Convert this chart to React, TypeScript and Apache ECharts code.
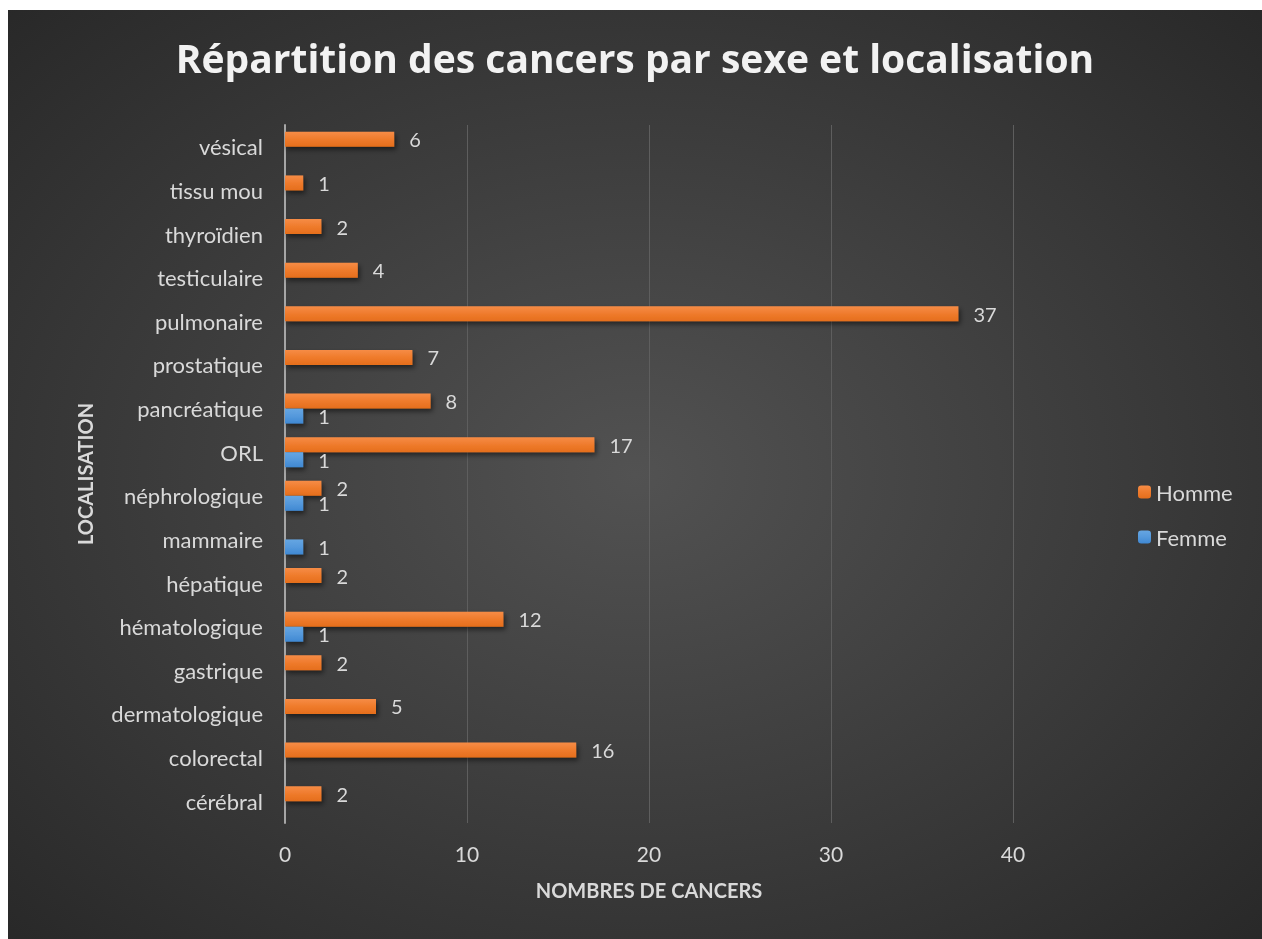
import React, { useEffect, useRef } from "react";
import * as echarts from "echarts";

const categories = [
  "cérébral",
  "colorectal",
  "dermatologique",
  "gastrique",
  "hématologique",
  "hépatique",
  "mammaire",
  "néphrologique",
  "ORL",
  "pancréatique",
  "prostatique",
  "pulmonaire",
  "testiculaire",
  "thyroïdien",
  "tissu mou",
  "vésical",
];
const homme = [2, 16, 5, 2, 12, 2, null, 2, 17, 8, 7, 37, 4, 2, 1, 6];
const femme = [null, null, null, null, 1, null, 1, 1, 1, 1, null, null, null, null, null, null];
const xTicks = { min: 0, max: 40, interval: 10 };

const FONT = "Lato, 'Noto Sans', sans-serif";

export default function App() {
  const ref = useRef<HTMLDivElement>(null);
  useEffect(() => {
    const chart = echarts.init(ref.current!, undefined, { renderer: "svg" });
    const orange = new echarts.graphic.LinearGradient(0, 0, 0, 1, [
      { offset: 0, color: "#f68c46" },
      { offset: 0.5, color: "#ef7b2c" },
      { offset: 1, color: "#e56e1c" },
    ]);
    const blue = new echarts.graphic.LinearGradient(0, 0, 0, 1, [
      { offset: 0, color: "#66a6e2" },
      { offset: 0.5, color: "#5599dc" },
      { offset: 1, color: "#3f88d2" },
    ]);
    const labelStyle = {
      show: true,
      position: "right" as const,
      distance: 15,
      color: "#d9d9d9",
      fontSize: 20,
      fontFamily: FONT,
    };
    const shadow = {
      shadowBlur: 5,
      shadowOffsetX: 2,
      shadowOffsetY: 3,
      shadowColor: "rgba(0,0,0,0.5)",
    };
    chart.setOption({
      animation: false,
      backgroundColor: {
        type: "radial",
        x: 0.5,
        y: 0.5,
        r: 0.75,
        colorStops: [
          { offset: 0, color: "#525252" },
          { offset: 1, color: "#262626" },
        ],
      },
      title: {
        text: "Répartition des cancers par sexe et localisation",
        left: "center",
        top: 23,
        textStyle: {
          color: "#f2f2f2",
          fontSize: 39,
          fontWeight: "bold",
          fontFamily: "'Open Sans', sans-serif",
        },
      },
      legend: {
        orient: "vertical",
        left: 1125,
        top: 466,
        itemWidth: 13,
        itemHeight: 13,
        itemGap: 23,
        data: ["Homme", "Femme"],
        textStyle: { color: "#d9d9d9", fontSize: 22, fontFamily: FONT },
      },
      grid: { left: 277, right: 249, top: 115, bottom: 116, containLabel: false },
      xAxis: {
        type: "value",
        min: xTicks.min,
        max: xTicks.max,
        interval: xTicks.interval,
        axisLine: { show: false },
        axisTick: { show: false },
        splitLine: { show: true, lineStyle: { color: "#5e5e5e", width: 1 } },
        axisLabel: { color: "#d9d9d9", fontSize: 21, margin: 20, fontFamily: FONT },
        name: "NOMBRES DE CANCERS",
        nameLocation: "middle",
        nameGap: 57,
        nameTextStyle: { color: "#d9d9d9", fontSize: 20, fontWeight: "bold", fontFamily: FONT },
      },
      yAxis: {
        type: "category",
        data: categories,
        axisTick: { show: false },
        axisLine: { show: true, lineStyle: { color: "#a6a6a6", width: 2 } },
        axisLabel: { color: "#d9d9d9", fontSize: 22, margin: 22, fontFamily: FONT },
        name: "LOCALISATION",
        nameLocation: "middle",
        nameGap: 190,
        nameTextStyle: { color: "#d9d9d9", fontSize: 20, fontWeight: "bold", fontFamily: FONT },
      },
      series: [
        {
          name: "Homme",
          type: "bar",
          data: homme,
          barWidth: 15,
          barGap: "0%",
          itemStyle: { color: orange, ...shadow },
          label: labelStyle,
        },
        {
          name: "Femme",
          type: "bar",
          data: femme,
          barWidth: 15,
          barGap: "0%",
          itemStyle: { color: blue, ...shadow },
          label: labelStyle,
        },
      ],
    });
    return () => chart.dispose();
  }, []);
  return (
    <div
      ref={ref}
      style={{ position: "fixed", left: 8, top: 10, width: 1254, height: 929 }}
    />
  );
}
